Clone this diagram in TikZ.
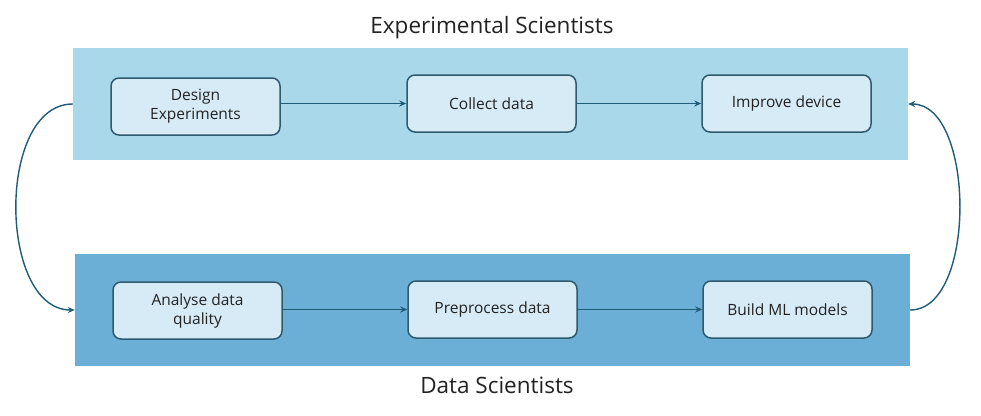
\documentclass[tikz,border=0pt]{standalone}
\usepackage{fontspec}
\setmainfont{Open Sans}
\usetikzlibrary{arrows.meta}
\definecolor{bandtop}{HTML}{A9D8EA}
\definecolor{bandbot}{HTML}{6BAED6}
\definecolor{boxfill}{HTML}{D7EBF7}
\definecolor{boxline}{HTML}{2E5A6E}
\definecolor{arrowcol}{HTML}{1E5C78}
\definecolor{txt}{HTML}{222222}

\begin{document}
\begin{tikzpicture}[x=1pt,y=-1pt,
  band/.style={minimum width=835pt,minimum height=112pt,inner sep=0pt},
  stepbox/.style={draw=boxline,line width=1.5pt,fill=boxfill,rounded corners=8pt,
    minimum width=169pt,minimum height=57pt,align=center,inner sep=2pt,text=txt,
    font=\fontsize{15.5}{19}\selectfont},
  flow/.style={arrowcol,line width=1.4pt,-{Stealth[length=7pt,width=6pt]}},
  title/.style={text=txt,font=\fontsize{22.5}{26}\selectfont}]
\useasboundingbox (0,0) rectangle (981,415);
\node [band,fill=bandtop] (exp) at (490.5,104) {};
\node [band,fill=bandbot] (dat) at (492.5,310) {};
\node [title] (exptitle) at (492,28) {Experimental Scientists};
\node [title] (dattitle) at (497,385) {Data Scientists};
\node [stepbox] (design) at (195.5,106.5) {Design\\Experiments};
\node [stepbox] (collect) at (491.5,103.5) {Collect data};
\node [stepbox] (improve) at (786.5,103.5) {Improve device};
\node [stepbox] (analyse) at (197.5,310.5) {Analyse data\\quality};
\node [stepbox] (prep) at (492.5,309.5) {Preprocess data};
\node [stepbox] (build) at (787.5,309.5) {Build ML models};
\draw [flow] (design.east |- collect.west) -- (collect.west);
\draw [flow] (collect) -- (improve);
\draw [flow] (analyse.east |- prep.west) -- (prep.west);
\draw [flow] (prep) -- (build);
\draw [flow] (exp.west) to[out=180,in=180,looseness=0.95] (dat.west);
\draw [flow] (dat.east) to[out=0,in=0,looseness=0.83] (exp.east);
\end{tikzpicture}
\end{document}
